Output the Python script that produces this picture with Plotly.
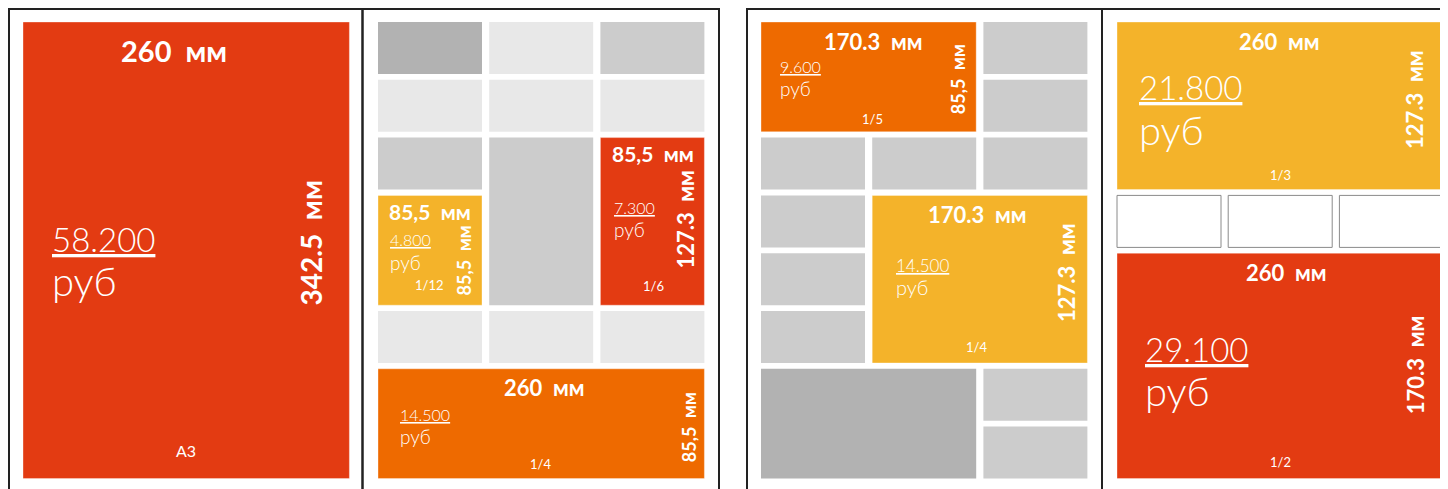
import plotly.graph_objects as go

# ---------------- data ----------------
NB = "\u00a0\u00a0"
ad_prices = ["58.200", "4.800", "7.300", "14.500", "9.600", "14.500", "21.800", "29.100"]
ad_widths = ["260", "85,5", "85,5", "260", "170.3", "170.3", "260", "260"]
ad_heights = ["342.5", "85,5", "127.3", "85,5", "85,5", "127.3", "127.3", "170.3"]
unit = "мм"
ad_fractions = ["A3", "1/12", "1/6", "1/4", "1/5", "1/4", "1/3", "1/2"]
currency = "руб"

# grid spans of ads (panel, col0, col1, row0, row1)
ad_panel = [0, 1, 1, 1, 2, 2, 3, 3]
ad_cols = [(0, 2), (0, 0), (2, 2), (0, 2), (0, 1), (1, 2), (0, 2), (0, 2)]
ad_rows = [(0, 7), (3, 4), (2, 4), (6, 7), (0, 1), (3, 5), (0, 2), (4, 7)]
ad_colors = ["#E33B12", "#F4B32A", "#E33B12", "#EE6A00", "#EE6A00", "#F4B32A", "#F4B32A", "#E33B12"]

# filler cells: (panel, col0, col1, row0, row1, shade)
fill_cells = [
    (1, 0, 0, 0, 0, "dark"), (1, 1, 1, 0, 0, "light"), (1, 2, 2, 0, 0, "mid"),
    (1, 0, 0, 1, 1, "light"), (1, 1, 1, 1, 1, "light"), (1, 2, 2, 1, 1, "light"),
    (1, 0, 0, 2, 2, "mid"), (1, 1, 1, 2, 4, "mid"),
    (1, 0, 0, 5, 5, "light"), (1, 1, 1, 5, 5, "light"), (1, 2, 2, 5, 5, "light"),
    (2, 2, 2, 0, 0, "mid"), (2, 2, 2, 1, 1, "mid"),
    (2, 0, 0, 2, 2, "mid"), (2, 1, 1, 2, 2, "mid"), (2, 2, 2, 2, 2, "mid"),
    (2, 0, 0, 3, 3, "mid"), (2, 0, 0, 4, 4, "mid"), (2, 0, 0, 5, 5, "mid"),
    (2, 0, 1, 6, 7, "dark"), (2, 2, 2, 6, 6, "mid"), (2, 2, 2, 7, 7, "mid"),
    (3, 0, 0, 3, 3, "white"), (3, 1, 1, 3, 3, "white"), (3, 2, 2, 3, 3, "white"),
]
shade_colors = {"dark": "#B2B2B2", "mid": "#CCCCCC", "light": "#E8E8E8", "white": "#FFFFFF"}

# ---------------- layout (positions / styles) ----------------
W, H = 1448, 489
PAGE_OFF = 8  # page body margin offset
panel_frames = [(9, 362.5), (362.5, 719), (747, 1102), (1102, 1470)]
panel_top = 9
panel_col0 = [23, 378, 761, 1117]
col_pitch, col_w = 111.2, 104
row_top, row_pitch, row_h = 22, 57.8, 52
CUR_SCALE = 1.2

# text placement per ad: (w_dx, w_dy, w_size, p_dx, p_dy, r_dy, p_size, h_dx, h_dy, h_size, f_dx, f_dy, f_size)
text_layout = [
    (-12, 28, 29, 27, 217, 259, 33, 38, 221, 28, 0, 28, 16),
    (0, 15.6, 21, 10, 44, 67, 16, 18, 65, 18, -1, 20, 13),
    (1, 15.4, 21, 11.6, 70, 92, 16, 18.4, 82, 22, 0.6, 19, 13),
    (3, 19, 22, 20, 46, 68, 16, 16, 58, 18, -1, 14.6, 13),
    (4, 19, 22, 17, 44, 66, 16, 18, 57, 18, 4, 13, 13),
    (-3, 18.6, 22, 22, 69.6, 92, 17, 21.4, 77.6, 22, -3, 16, 13),
    (-1, 19, 22, 20, 65, 108, 33, 29.4, 78, 22, 0, 14.6, 13),
    (6, 19, 22, 26, 96, 138, 33, 28.4, 112, 22, 0, 16.6, 13),
]

FONT = "Lato"


def cell_rect(panel, c0, c1, r0, r1):
    x0 = panel_col0[panel] + c0 * col_pitch
    x1 = panel_col0[panel] + c1 * col_pitch + col_w
    y0 = row_top + r0 * row_pitch
    y1 = row_top + r1 * row_pitch + row_h
    return x0, y0, x1, y1


shapes = []
annotations = []

# panel frames
for (fx0, fx1) in panel_frames:
    shapes.append(dict(type="rect", xref="x", yref="y", x0=fx0, x1=fx1, y0=panel_top, y1=H + 40,
                       line=dict(color="#222222", width=2), fillcolor="rgba(0,0,0,0)", layer="above"))

# filler cells
for (p, c0, c1, r0, r1, shade) in fill_cells:
    x0, y0, x1, y1 = cell_rect(p, c0, c1, r0, r1)
    if shade == "white":
        line = dict(color="#8A8A8A", width=1)
    else:
        line = dict(width=0)
    shapes.append(dict(type="rect", xref="x", yref="y", x0=x0, x1=x1, y0=y0, y1=y1,
                       fillcolor=shade_colors[shade], line=line, layer="below"))

# ads
for i in range(len(ad_prices)):
    c0, c1 = ad_cols[i]
    r0, r1 = ad_rows[i]
    x0, y0, x1, y1 = cell_rect(ad_panel[i], c0, c1, r0, r1)
    shapes.append(dict(type="rect", xref="x", yref="y", x0=x0, x1=x1, y0=y0, y1=y1,
                       fillcolor=ad_colors[i], line=dict(color="rgba(255,255,255,0.35)", width=1),
                       layer="below"))
    (w_dx, w_dy, w_size, p_dx, p_dy, r_dy, p_size, h_dx, h_dy, h_size,
     f_dx, f_dy, f_size) = text_layout[i]
    cx = (x0 + x1) / 2
    annotations.append(dict(x=cx + w_dx, y=y0 + w_dy, text="<b>" + ad_widths[i] + NB + unit + "</b>",
                            font=dict(family=FONT, size=w_size, color="white"),
                            xanchor="center", yanchor="middle"))
    annotations.append(dict(x=x0 + p_dx, y=y0 + p_dy, text="<u>" + ad_prices[i] + "</u>",
                            font=dict(family=FONT, size=p_size, color="white", weight=300),
                            xanchor="left", yanchor="middle"))
    annotations.append(dict(x=x0 + p_dx, y=y0 + r_dy, text=currency,
                            font=dict(family=FONT, size=round(p_size * CUR_SCALE), color="white",
                                      weight=300),
                            xanchor="left", yanchor="middle"))
    annotations.append(dict(x=x1 - h_dx, y=y0 + h_dy, text="<b>" + ad_heights[i] + NB + unit + "</b>",
                            font=dict(family=FONT, size=h_size, color="white"),
                            textangle=-90, xanchor="center", yanchor="middle"))
    annotations.append(dict(x=cx + f_dx, y=y1 - f_dy, text=ad_fractions[i],
                            font=dict(family=FONT, size=f_size, color="white"),
                            xanchor="center", yanchor="middle"))

for a in annotations:
    a.update(xref="x", yref="y", showarrow=False)

fig = go.Figure()
fig.add_trace(go.Scatter(x=[0, W], y=[0, H], mode="markers", marker=dict(opacity=0),
                         hoverinfo="skip", showlegend=False))
fig.update_layout(
    width=W, height=H,
    margin=dict(l=0, r=0, t=0, b=0),
    paper_bgcolor="white", plot_bgcolor="white",
    xaxis=dict(range=[PAGE_OFF, W + PAGE_OFF], visible=False, fixedrange=True),
    yaxis=dict(range=[H + PAGE_OFF, PAGE_OFF], visible=False, fixedrange=True),
    shapes=shapes, annotations=annotations, showlegend=False,
)
fig.write_html("out.html")
